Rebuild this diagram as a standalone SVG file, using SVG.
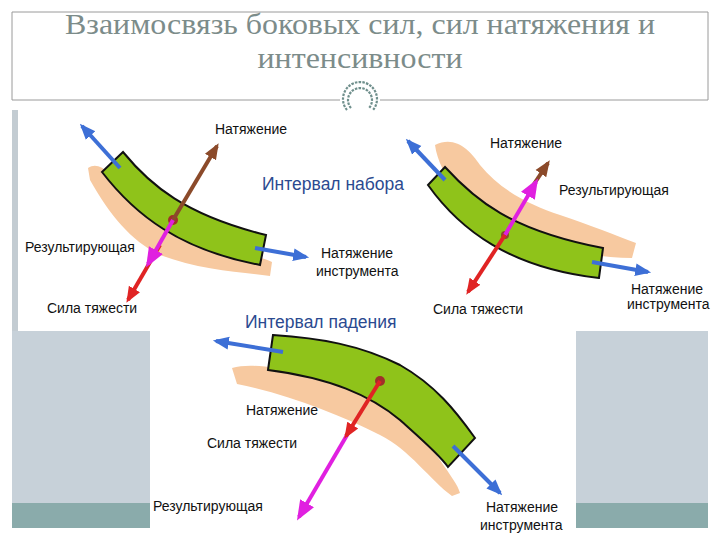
<svg xmlns="http://www.w3.org/2000/svg" width="720" height="540" viewBox="0 0 720 540">
<defs>
<style>
.t{font-family:"Liberation Sans",Arial,sans-serif;font-size:14px;fill:#111}
.h{font-family:"Liberation Sans",Arial,sans-serif;font-size:17.5px;fill:#2b4a90}
.ti{font-family:"Liberation Serif","DejaVu Serif",serif;font-size:29px;fill:#7c8c8a}
.bar{fill:#8fc31a;stroke:#111;stroke-width:2}
.tan{fill:#f7c9a0}
.ar{fill:none;stroke-width:4}
.b{stroke:#3d6fd6}.m{stroke:#e020e0}.r{stroke:#e02424}.br{stroke:#8b4a2a}
.fr{stroke:#9a9a9a;stroke-width:1;fill:none}
</style>
<marker id="hb" viewBox="0 0 10 10" refX="8" refY="5" markerWidth="4" markerHeight="4" orient="auto"><path d="M0,1L10,5L0,9z" fill="#3d6fd6"/></marker>
<marker id="hm" viewBox="0 0 10 10" refX="8" refY="5" markerWidth="5" markerHeight="5" orient="auto"><path d="M0,1L10,5L0,9z" fill="#e020e0"/></marker>
<marker id="hr" viewBox="0 0 10 10" refX="8" refY="5" markerWidth="4" markerHeight="4" orient="auto"><path d="M0,1L10,5L0,9z" fill="#e02424"/></marker>
<marker id="hbr" viewBox="0 0 10 10" refX="8" refY="5" markerWidth="4" markerHeight="4" orient="auto"><path d="M0,1L10,5L0,9z" fill="#8b4a2a"/></marker>
</defs>
<rect width="720" height="540" fill="#fff"/>
<g id="frame">
<path class="fr" d="M12,100V12H708V100M12,100H340M380,100H708"/>
<rect x="12" y="110" width="6" height="221" fill="#c3ccd2"/>
<rect x="12" y="331" width="138" height="172" fill="#c7d1d9"/>
<rect x="12" y="503" width="138" height="25" fill="#8aabab"/>
<rect x="576" y="331" width="132" height="172" fill="#c7d1d9"/>
<rect x="576" y="503" width="132" height="25" fill="#8aabab"/>
<g fill="none" stroke="#6f8f8c" stroke-width="2.2" stroke-dasharray="2.5 1.2">
<path d="M347,110A17,17 0 1 1 373,110"/>
<path d="M351,108A12,12 0 1 1 369,108"/>
</g>
</g>
<g id="title">
<text class="ti" x="360" y="34" text-anchor="middle" textLength="590" lengthAdjust="spacingAndGlyphs">Взаимосвязь боковых сил, сил натяжения и</text>
<text class="ti" x="360" y="68" text-anchor="middle" textLength="205" lengthAdjust="spacingAndGlyphs">интенсивности</text>
</g>
<g id="diagram1">
<path class="tan" d="M88,168C100,160 110,175 130,190C160,215 190,238 230,250C250,256 265,258 272,262L270,276C240,272 200,270 160,255C130,240 110,215 90,180Z"/>
<path class="bar" d="M102,172L123,152C150,185 185,215 266,235L260,265C180,250 135,215 102,172Z"/>
<circle cx="173" cy="220" r="5" fill="#a0302a"/>
</g>
<g id="diagram2">
<path class="tan" d="M435,145C455,135 470,150 480,165C500,190 530,205 560,215C590,225 615,235 636,243L632,258C600,258 560,250 530,240C500,230 475,210 455,190C445,175 437,160 435,145Z"/>
<path class="bar" d="M428,185L445,167C475,200 510,230 603,248L599,278C510,268 460,230 428,185Z"/>
<circle cx="505" cy="235" r="4" fill="#8b4a2a"/>
</g>
<g id="diagram3">
<path class="tan" d="M232,368C260,360 310,375 350,390C390,405 420,430 440,460C450,475 458,485 460,493L452,496C430,480 410,450 380,435C340,415 290,395 237,384Z"/>
<path class="bar" d="M273,335L268,370C330,378 370,395 400,420C420,438 440,455 448,467L475,438C455,410 435,385 400,365C360,345 320,338 273,335Z"/>
<circle cx="380" cy="381" r="5" fill="#a0302a"/>
</g>
<g id="connectors">
<line class="ar b" x1="120" y1="168" x2="82" y2="126" marker-end="url(#hb)"/>
<line class="ar b" x1="255" y1="248" x2="306" y2="257" marker-end="url(#hb)"/>
<line class="ar br" x1="173" y1="220" x2="217" y2="146" marker-end="url(#hbr)"/>
<line class="ar r" x1="160" y1="245" x2="128" y2="300" marker-end="url(#hr)"/>
<line class="ar m" x1="173" y1="220" x2="148" y2="264" marker-end="url(#hm)"/>
<line class="ar b" x1="445" y1="180" x2="408" y2="141" marker-end="url(#hb)"/>
<line class="ar b" x1="592" y1="262" x2="648" y2="272" marker-end="url(#hb)"/>
<line class="ar br" x1="530" y1="190" x2="548" y2="163" marker-end="url(#hbr)"/>
<line class="ar m" x1="505" y1="235" x2="536" y2="182" marker-end="url(#hm)"/>
<line class="ar r" x1="505" y1="235" x2="468" y2="292" marker-end="url(#hr)"/>
<line class="ar b" x1="283" y1="352" x2="216" y2="341" marker-end="url(#hb)"/>
<line class="ar b" x1="453" y1="446" x2="500" y2="493" marker-end="url(#hb)"/>
<line class="ar m" x1="350" y1="430" x2="299" y2="517" marker-end="url(#hm)"/>
<line class="ar r" x1="380" y1="381" x2="346" y2="436" marker-end="url(#hr)"/>
</g>
<g id="labels">
<text class="t" x="215" y="134">Натяжение</text>
<text class="h" x="262" y="190">Интервал набора</text>
<text class="t" x="25" y="252">Результирующая</text>
<text class="t" x="321" y="258">Натяжение</text>
<text class="t" x="316" y="276">инструмента</text>
<text class="t" x="47" y="313">Сила тяжести</text>
<text class="t" x="490" y="148">Натяжение</text>
<text class="t" x="559" y="195">Результирующая</text>
<text class="t" x="631" y="294">Натяжение</text>
<text class="t" x="627" y="309">инструмента</text>
<text class="t" x="433" y="314">Сила тяжести</text>
<text class="h" x="245" y="328">Интервал падения</text>
<text class="t" x="246" y="415">Натяжение</text>
<text class="t" x="207" y="448">Сила тяжести</text>
<text class="t" x="153" y="511">Результирующая</text>
<text class="t" x="486" y="512">Натяжение</text>
<text class="t" x="480" y="530">инструмента</text>
</g>
</svg>
